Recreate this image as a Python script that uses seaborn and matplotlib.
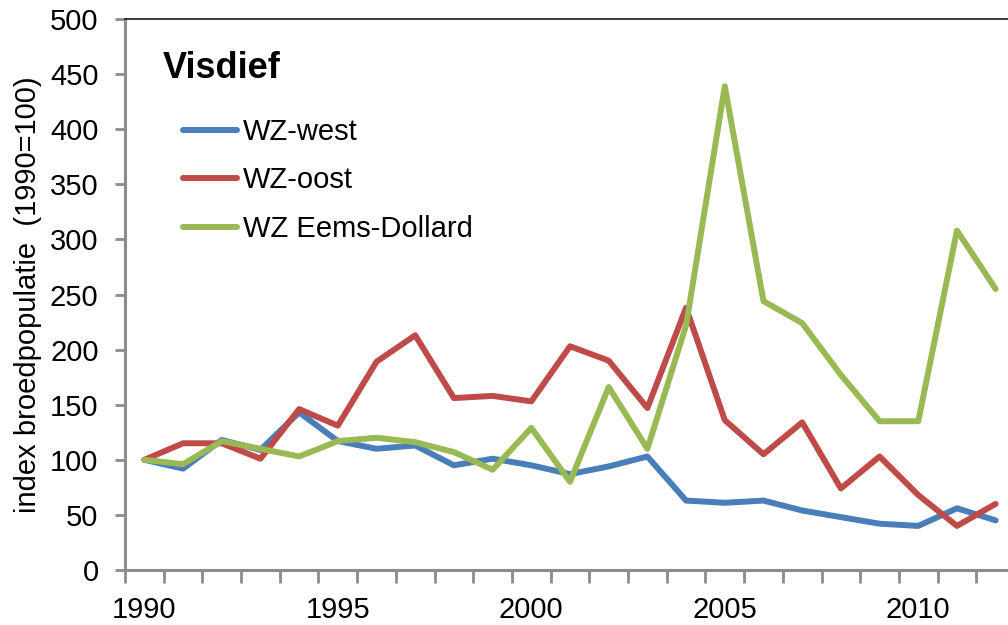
import numpy as np
import pandas as pd
import matplotlib
matplotlib.use("Agg")
import matplotlib.pyplot as plt
from matplotlib.lines import Line2D
import seaborn as sns

years = list(range(1990, 2013))
wz_west = [100, 92, 118, 109, 143, 117, 110, 113, 95, 101, 95, 87, 94, 103,
           63, 61, 63, 54, 48, 42, 40, 56, 45]
wz_oost = [100, 115, 115, 101, 146, 131, 189, 213, 156, 158, 153, 203, 190, 147,
           238, 136, 105, 134, 74, 103, 68, 40, 60]
wz_eems = [100, 96, 117, 110, 103, 117, 120, 116, 107, 91, 129, 80, 166, 110,
           222, 439, 244, 224, 177, 135, 135, 308, 255]
series_names = ["WZ-west", "WZ-oost", "WZ Eems-Dollard"]
colors = ["#4A7EBB", "#BE4B48", "#98B954"]
y_ticks = list(range(0, 501, 50))
x_label_years = [1990, 1995, 2000, 2005, 2010]
title = "Visdief"
y_label = "index broedpopulatie  (1990=100)"

sns.set_theme(style="white")
plt.rcParams["font.family"] = ["Liberation Sans", "DejaVu Sans"]
plt.rcParams["text.color"] = "black"
plt.rcParams["axes.labelcolor"] = "black"
plt.rcParams["xtick.color"] = "black"
plt.rcParams["ytick.color"] = "black"

df = pd.DataFrame({
    "jaar": years * 3,
    "index": wz_west + wz_oost + wz_eems,
    "reeks": [series_names[0]] * len(years) + [series_names[1]] * len(years)
             + [series_names[2]] * len(years),
})

W, H = 1008, 625
fig = plt.figure(figsize=(W / 100, H / 100), dpi=100)
left, right, top, bottom = 125, 1015, 19, 570
ax = fig.add_axes([left / W, 1 - bottom / H, (right - left) / W, (bottom - top) / H])

lw = 4.3
sns.lineplot(data=df, x="jaar", y="index", hue="reeks", palette=colors,
             hue_order=series_names, linewidth=lw, ax=ax, legend=False,
             solid_joinstyle="round", solid_capstyle="round")

ax.set_xlim(1989.5, 2012.5)
ax.set_ylim(0, 500)
ax.set_xlabel("")
ax.set_ylabel(y_label, fontsize=21, labelpad=6, color="black")

ax.set_yticks(y_ticks)
ax.set_yticklabels([str(v) for v in y_ticks])
ax.set_xticks(x_label_years)
ax.set_xticklabels([str(v) for v in x_label_years])
ax.set_xticks(np.arange(1989.5, 2013, 1.0), minor=True)

gray = "#8C8C8C"
ax.tick_params(bottom=True, left=True, which="both")
ax.tick_params(axis="x", which="major", length=0, labelsize=21, pad=19, labelcolor="black")
ax.tick_params(axis="x", which="minor", length=9, width=2, color=gray, direction="out")
ax.tick_params(axis="y", which="major", length=7, width=2, color=gray, direction="out",
               labelsize=21, pad=12, labelcolor="black")

for s in ["left", "bottom"]:
    ax.spines[s].set_color(gray)
    ax.spines[s].set_linewidth(2.2)
ax.spines["top"].set_color("#1A1A1A")
ax.spines["top"].set_linewidth(1.2)
ax.spines["right"].set_visible(False)
ax.grid(False)

fig.text(163 / W, 1 - 78 / H, title, fontsize=26, fontweight="bold",
         va="baseline", ha="left", color="black")

handles = [Line2D([0], [0], color=c, lw=lw, solid_capstyle="round") for c in colors]
leg = ax.legend(handles, series_names, loc="upper left",
                bbox_to_anchor=(183 / W, 1 - 118 / H), bbox_transform=fig.transFigure,
                frameon=False, fontsize=21, handlelength=1.85, handletextpad=0.2,
                labelspacing=0.7, borderpad=0, borderaxespad=0)
for t in leg.get_texts():
    t.set_color("black")

fig.savefig("out.png", dpi=100)
